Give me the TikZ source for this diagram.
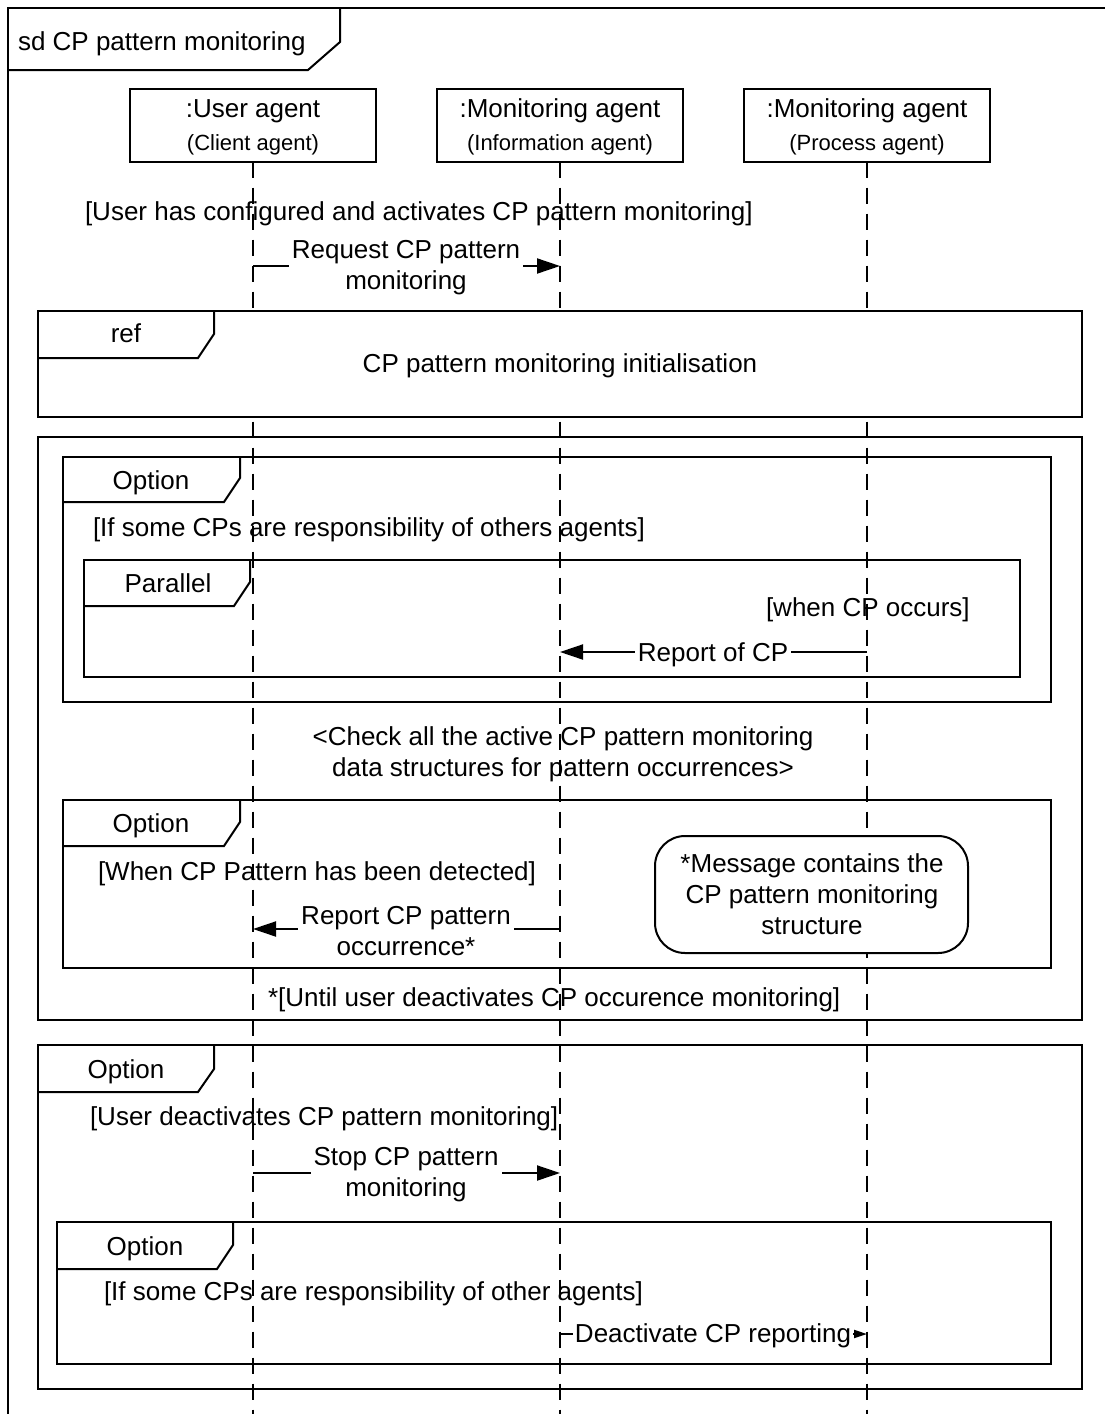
\documentclass[tikz,border=0pt]{standalone}
\usepackage{fontspec}
\setmainfont{Liberation Sans}
\usetikzlibrary{arrows.meta}
\begin{document}
\begin{tikzpicture}[x=1pt,y=-1pt,
  every node/.style={inner sep=0pt, outer sep=0pt},
  txt/.style={font=\fontsize{26}{31}\selectfont},
  smalltxt/.style={font=\fontsize{22}{26}\selectfont},
  frame/.style={draw=black, line width=2pt},
  lifebox/.style={draw=black, line width=2pt, fill=white, minimum width=246pt, minimum height=73pt},
  lifeline/.style={line width=2.2pt, dash pattern=on 16pt off 10pt},
  msg/.style={line width=2pt, -{Triangle[length=23pt,width=15pt]}},
  smallmsg/.style={line width=2pt, -{Triangle[length=13pt,width=8pt]}},
  msglabel/.style={txt, fill=white, inner sep=3pt, align=center},
  guard/.style={txt, anchor=base west},
]
\useasboundingbox (0,0) rectangle (1105,1414);
\coordinate (bottom) at (0,1414);

% outer sd frame and its tab
\draw[frame] (8,1420) -- (8,8) -- (1110,8);
\draw[frame] (340,8) -- (340,42) -- (308,70) -- (8,70);
\node[txt, anchor=base west] (title) at (18,50) {sd CP pattern monitoring};

% lifeline heads
\node[lifebox] (ua) at (253,125) {};
\node[lifebox] (ia) at (560,125) {};
\node[lifebox] (pa) at (867,125) {};
\node[txt, anchor=base] (uan) at (253,117) {:User agent};
\node[smalltxt, anchor=base] (uar) at (253,150) {(Client agent)};
\node[txt, anchor=base] (ian) at (560,117) {:Monitoring agent};
\node[smalltxt, anchor=base] (iar) at (560,150) {(Information agent)};
\node[txt, anchor=base] (pan) at (867,117) {:Monitoring agent};
\node[smalltxt, anchor=base] (par) at (867,150) {(Process agent)};

% combined fragments (loop, options, parallel)
\draw[frame] (38,437) rectangle (1082,1020);
\draw[frame] (63,457) rectangle (1051,702);
\draw[frame] (240,457) -- (240,478) -- (224,502) -- (63,502);
\node[txt, anchor=base] (opt1) at (151,489) {Option};
\draw[frame] (84,560) rectangle (1020,677);
\draw[frame] (250,560) -- (250,582) -- (234,606) -- (84,606);
\node[txt, anchor=base] (par1) at (168,592) {Parallel};
\draw[frame] (63,800) rectangle (1051,968);
\draw[frame] (240,800) -- (240,822) -- (224,846) -- (63,846);
\node[txt, anchor=base] (opt2) at (151,832) {Option};
\draw[frame] (38,1045) rectangle (1082,1389);
\draw[frame] (214,1045) -- (214,1069) -- (198,1092) -- (38,1092);
\node[txt, anchor=base] (opt3) at (126,1078) {Option};
\draw[frame] (57,1222) rectangle (1051,1364);
\draw[frame] (233,1222) -- (233,1245) -- (217,1269) -- (57,1269);
\node[txt, anchor=base] (opt4) at (145,1255) {Option};

% lifelines
\draw[lifeline] (ua.south) -- (ua.south |- bottom);
\draw[lifeline] (ia.south) -- (ia.south |- bottom);
\draw[lifeline] (pa.south) -- (pa.south |- bottom);

% interaction use
\draw[frame, fill=white] (38,311) rectangle (1082,417);
\draw[frame] (214,311) -- (214,334) -- (198,358) -- (38,358);
\node[txt, anchor=base] (reft) at (126,342) {ref};
\node[txt, anchor=base] (refn) at (560,372) {CP pattern monitoring initialisation};

% note
\draw[frame, fill=white, rounded corners=30pt] (655,836) rectangle (968,953);
\node[txt, anchor=base] (n1) at (812,872) {*Message contains the};
\node[txt, anchor=base] (n2) at (812,903) {CP pattern monitoring};
\node[txt, anchor=base] (n3) at (812,934) {structure};

% guards and comments
\node[guard] (g1) at (85,220) {[User has configured and activates CP pattern monitoring]};
\node[guard] (g2) at (93,536) {[If some CPs are responsibility of others agents]};
\node[guard] (g3) at (766,616) {[when CP occurs]};
\node[txt, anchor=base] (c1) at (563,745) {<Check all the active CP pattern monitoring};
\node[txt, anchor=base] (c2) at (563,776) {data structures for pattern occurrences>};
\node[guard] (g4) at (98,880) {[When CP Pattern has been detected]};
\node[guard] (g5) at (268,1006) {*[Until user deactivates CP occurence monitoring]};
\node[guard] (g6) at (90,1125) {[User deactivates CP pattern monitoring]};
\node[guard] (g7) at (104,1300) {[If some CPs are responsibility of other agents]};

% messages
\draw[msg] (ua |- 0,266) -- (ia |- 0,266);
\node[msglabel] (l1) at (406,268) {Request CP pattern\\monitoring};
\draw[msg] (pa |- 0,652) -- (ia |- 0,652);
\node[msglabel, anchor=base] (l2) at (713,661) {Report of CP};
\draw[msg] (ia |- 0,929) -- (ua |- 0,929);
\node[msglabel] (l3) at (406,931) {Report CP pattern\\occurrence*};
\draw[msg] (ua |- 0,1173) -- (ia |- 0,1173);
\node[msglabel] (l4) at (406,1175) {Stop CP pattern\\monitoring};
\draw[smallmsg] (ia |- 0,1334) -- (pa |- 0,1334);
\node[msglabel, inner sep=2pt, anchor=base] (l5) at (713,1342) {Deactivate CP reporting};
\end{tikzpicture}
\end{document}
